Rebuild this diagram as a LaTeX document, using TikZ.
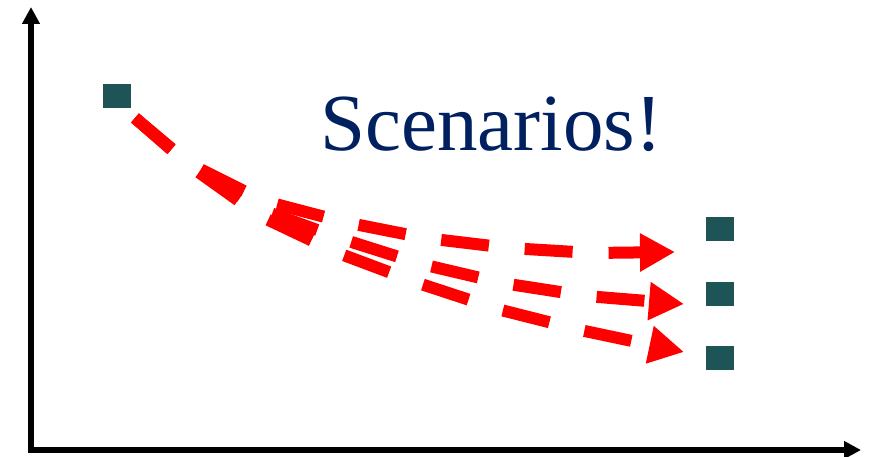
\documentclass[tikz,border=0pt]{standalone}
\usepackage{fontspec}
\setmainfont{Liberation Serif}
\usetikzlibrary{arrows.meta}
\definecolor{teal1}{RGB}{31,84,87}
\definecolor{navy1}{RGB}{0,32,96}
\definecolor{red1}{RGB}{255,0,0}
\tikzset{
  axisline/.style={line width=5.5pt, -{Triangle[length=17pt,width=17pt]}},
  marker/.style={fill=teal1, draw=none, minimum width=28pt, minimum height=24pt, inner sep=0pt},
  scen/.style={red1, line width=12pt, line join=miter, dash pattern=on 48pt off 36pt,
    -{Triangle[length=35pt,width=36pt]}},
}
\begin{document}
\begin{tikzpicture}[x=1pt,y=-1pt]
\useasboundingbox (0,0) rectangle (882,457);
% axes
\coordinate (origin) at (31,450);
\coordinate (ytop) at (31,7);
\coordinate (xend) at (861,450);
\draw[axisline] ([yshift=-3pt]origin) -- (ytop);
\draw[axisline] ([xshift=-2.75pt]origin) -- (xend);
% markers
\node[marker] (start) at (117,96) {};
\node[marker] (e1) at (720,229) {};
\node[marker] (e2) at (720,294) {};
\node[marker] (e3) at (720,358) {};
% scenario arrows
\coordinate (s) at (135,118);
\coordinate (t1) at (675,252);
\coordinate (t2) at (684,304);
\coordinate (t3) at (684,352);
\draw[scen] (s) -- (190,164) -- (264,201) -- (344,222) -- (425,238) -- (509,248) -- (592,253) -- (t1);
\draw[scen] (s) -- (190,165) -- (262,210) -- (342,239) -- (421,264) -- (502,283) -- (586,296) -- (t2);
\draw[scen] (s) -- (190,166) -- (260,216) -- (338,253) -- (418,283) -- (497,309) -- (580,330) -- (t3);
% title
\node[anchor=base west, inner sep=0pt, text=navy1, font=\fontsize{81}{92}\selectfont] (title) at (320,150) {Scenarios!};
\end{tikzpicture}
\end{document}
